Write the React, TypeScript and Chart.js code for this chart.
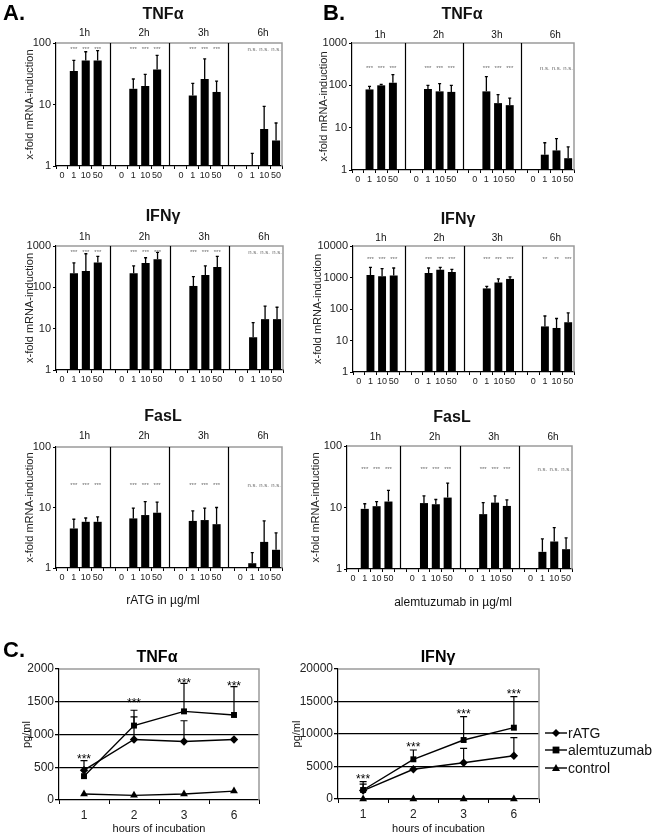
import React, { useEffect, useRef } from "react";
import { Chart, registerables } from "chart.js";
Chart.register(...registerables);

const FONT = "'Liberation Sans', Arial, Helvetica, sans-serif";

const doseLabels = ["0", "1", "10", "50"];
const hourLabels = ["1h", "2h", "3h", "6h"];

// ---- Panel A: rATG (x-fold mRNA induction; rows = hours, cols = doses 0,1,10,50)
const aTnfValues = [[1, 35, 52, 52], [1, 18, 20, 37], [1, 14, 26, 16], [1, 1, 4, 2.6]];
const aTnfErrTop = [[null, 52, 72, 75], [null, 26, 31, 63], [null, 22, 55, 24], [null, 1.6, 9.3, 5]];
const aTnfSig = [["***", "***", "***"], ["***", "***", "***"], ["***", "***", "***"], ["n.s.", "n.s.", "n.s."]];

const aIfnValues = [[1, 220, 250, 400], [1, 220, 390, 480], [1, 108, 200, 310], [1, 6.2, 17, 17]];
const aIfnErrTop = [[null, 390, 650, 560], [null, 330, 520, 700], [null, 181, 330, 560], [null, 14, 35, 33]];
const aIfnSig = [["***", "***", "***"], ["***", "***", "***"], ["***", "***", "***"], ["n.s.", "n.s.", "n.s."]];

const aFasValues = [[1, 4.5, 5.8, 5.8], [1, 6.6, 7.5, 8.2], [1, 6.0, 6.2, 5.3], [1, 1.2, 2.7, 2.0]];
const aFasErrTop = [[null, 6.4, 6.7, 7.0], [null, 9.8, 12.5, 12.3], [null, 8.8, 9.8, 10.0], [null, 1.8, 6.0, 3.8]];
const aFasSig = [["***", "***", "***"], ["***", "***", "***"], ["***", "***", "***"], ["n.s.", "n.s.", "n.s."]];

// ---- Panel B: alemtuzumab
const bTnfValues = [[1, 80, 100, 115], [1, 82, 72, 70], [1, 72, 38, 34], [1, 2.3, 2.9, 1.9]];
const bTnfErrTop = [[null, 95, 105, 180], [null, 100, 110, 100], [null, 160, 60, 50], [null, 4.4, 5.5, 3.5]];
const bTnfSig = [["***", "***", "***"], ["***", "***", "***"], ["***", "***", "***"], ["n.s.", "n.s.", "n.s."]];

const bIfnValues = [[1, 1200, 1100, 1150], [1, 1400, 1750, 1500], [1, 450, 700, 900], [1, 28, 25, 38]];
const bIfnErrTop = [[null, 2100, 1900, 2000], [null, 2000, 2100, 1800], [null, 520, 900, 1050], [null, 60, 50, 75]];
const bIfnSig = [["***", "***", "***"], ["***", "***", "***"], ["***", "***", "***"], ["**", "**", "***"]];

const bFasValues = [[1, 9.5, 10.5, 12.5], [1, 11.8, 11.3, 14.5], [1, 7.8, 12, 10.6], [1, 1.9, 2.8, 2.1]];
const bFasErrTop = [[null, 11.5, 12.5, 19], [null, 15.5, 13.5, 25], [null, 12, 15.5, 13.3], [null, 3.1, 4.7, 3.2]];
const bFasSig = [["***", "***", "***"], ["***", "***", "***"], ["***", "***", "***"], ["n.s.", "n.s.", "n.s."]];

// ---- Panel C: protein (pg/ml) over hours of incubation
const timeLabels = ["1", "2", "3", "6"];
const seriesNames = ["rATG", "alemtuzumab", "control"];

const cTnfRatg = [455, 924, 894, 924];
const cTnfRatgErr = [600, 1270, 1210, null];
const cTnfAlem = [364, 1136, 1353, 1298];
const cTnfAlemErr = [null, 1370, 1780, 1730];
const cTnfControl = [91, 71, 91, 136];
const cTnfStarAt = [667, 1515, 1818, 1773];

const cIfnRatg = [1300, 4570, 5585, 6662];
const cIfnRatgErr = [2300, null, 7800, 9430];
const cIfnAlem = [1385, 6108, 9077, 10970];
const cIfnAlemErr = [2662, 7538, 12662, 15738];
const cIfnControl = [0, 0, 0, 0];
const cIfnStarAt = [3430, 8308, 13430, 16508];

type Rect = { x: number; y: number; w: number; h: number };
type Plot = { l: number; t: number; r: number; b: number };
type Txt = { text: string; x: number; y: number };

function flattenGroups<T>(groups: T[][], filler: T): T[] {
  const out: T[] = [];
  groups.forEach((g, i) => {
    if (i > 0) out.push(filler);
    g.forEach((v) => out.push(v));
  });
  return out;
}

function makeBarChart(
  canvas: HTMLCanvasElement,
  o: {
    rect: Rect; plot: Plot; max: number;
    values: number[][]; errTop: (number | null)[][]; sig: string[][]; sigAt: number;
    title: Txt; groupY: number; yTitleX: number; corner?: Txt; footer?: Txt;
  }
) {
  const { rect, plot } = o;
  const labels = flattenGroups(hourLabels.map(() => doseLabels), "");
  const data = flattenGroups<number | null>(o.values, null);
  const errs = flattenGroups<number | null>(o.errTop, null);
  const xh = 15;
  const decades: number[] = [];
  for (let v = 1; v <= o.max; v *= 10) decades.push(v);

  const decor = {
    id: "decor",
    afterDatasetsDraw(chart: any) {
      const ctx = chart.ctx as CanvasRenderingContext2D;
      const ca = chart.chartArea;
      const xs = chart.scales.x;
      const ys = chart.scales.y;
      const meta = chart.getDatasetMeta(0);
      ctx.save();
      ctx.strokeStyle = "#9a9a9a";
      ctx.lineWidth = 1.5;
      ctx.beginPath();
      ctx.moveTo(ca.left, ca.top);
      ctx.lineTo(ca.right, ca.top);
      ctx.lineTo(ca.right, ca.bottom);
      ctx.stroke();
      ctx.strokeStyle = "#000";
      ctx.lineWidth = 1.2;
      [4, 9, 14].forEach((s) => {
        const px = Math.round(xs.getPixelForValue(s)) + 0.5;
        ctx.beginPath();
        ctx.moveTo(px, ca.top);
        ctx.lineTo(px, ca.bottom);
        ctx.stroke();
      });
      ctx.lineWidth = 1.3;
      errs.forEach((e, i) => {
        if (e == null) return;
        const el = meta.data[i];
        const py = ys.getPixelForValue(e);
        ctx.beginPath();
        ctx.moveTo(el.x, el.y);
        ctx.lineTo(el.x, py);
        ctx.moveTo(el.x - 1.5, py);
        ctx.lineTo(el.x + 1.5, py);
        ctx.stroke();
      });
      ctx.fillStyle = "#6a6a6a";
      ctx.font = `6px ${FONT}`;
      ctx.textAlign = "center";
      ctx.textBaseline = "middle";
      o.sig.forEach((grp, g) => {
        grp.forEach((s, i) => {
          const px = xs.getPixelForValue(g * 5 + i + 1);
          ctx.fillText(s, px, ys.getPixelForValue(o.sigAt));
        });
      });
      ctx.fillStyle = "#111";
      ctx.font = `10px ${FONT}`;
      hourLabels.forEach((h, g) => {
        ctx.fillText(h, xs.getPixelForValue(g * 5 + 1.9), o.groupY - rect.y);
      });
      ctx.font = `bold 16px ${FONT}`;
      ctx.fillText(o.title.text, o.title.x - rect.x, o.title.y - rect.y);
      ctx.save();
      ctx.font = `11px ${FONT}`;
      ctx.fillStyle = "#222";
      ctx.translate(o.yTitleX - rect.x, (ca.top + ca.bottom) / 2);
      ctx.rotate(-Math.PI / 2);
      ctx.fillText("x-fold mRNA-induction", 0, 0);
      ctx.restore();
      if (o.corner) {
        ctx.font = `bold 22px ${FONT}`;
        ctx.textAlign = "left";
        ctx.fillStyle = "#000";
        ctx.fillText(o.corner.text, o.corner.x - rect.x, o.corner.y - rect.y);
      }
      if (o.footer) {
        ctx.font = `12px ${FONT}`;
        ctx.textAlign = "center";
        ctx.fillStyle = "#111";
        ctx.fillText(o.footer.text, o.footer.x - rect.x, o.footer.y - rect.y);
      }
      ctx.restore();
    },
  };

  return new Chart(canvas, {
    type: "bar",
    data: {
      labels,
      datasets: [{ data, backgroundColor: "#000", barPercentage: 0.68, categoryPercentage: 1 }],
    },
    options: {
      responsive: false,
      animation: false,
      devicePixelRatio: 1,
      layout: {
        padding: { top: plot.t - rect.y, right: rect.x + rect.w - plot.r, left: 0, bottom: rect.y + rect.h - plot.b - xh },
      },
      plugins: { legend: { display: false }, tooltip: { enabled: false }, title: { display: false } },
      scales: {
        x: {
          type: "category",
          grid: { display: true, drawOnChartArea: false, offset: true, tickLength: 3, color: "#000" },
          border: { color: "#000", width: 1.2 },
          ticks: { font: { family: FONT, size: 9 }, color: "#222", padding: 1, autoSkip: false, maxRotation: 0 },
          afterFit: (s: any) => { s.height = xh; },
        },
        y: {
          type: "logarithmic",
          min: 1,
          max: o.max,
          afterBuildTicks: (s: any) => { s.ticks = decades.map((v) => ({ value: v })); },
          ticks: { callback: (v: any) => String(v), font: { family: FONT, size: 11 }, color: "#222", padding: 2 },
          grid: { display: true, drawOnChartArea: false, tickLength: 3, color: "#000" },
          border: { color: "#000", width: 1.2 },
          afterFit: (s: any) => { s.width = plot.l - rect.x; },
        },
      },
    } as any,
    plugins: [decor],
  });
}

function drawMarker(ctx: CanvasRenderingContext2D, style: string, x: number, y: number, r: number) {
  ctx.fillStyle = "#000";
  ctx.beginPath();
  if (style === "rectRot") {
    ctx.moveTo(x, y - r);
    ctx.lineTo(x + r, y);
    ctx.lineTo(x, y + r);
    ctx.lineTo(x - r, y);
  } else if (style === "rect") {
    const s = r * 0.85;
    ctx.rect(x - s, y - s, 2 * s, 2 * s);
  } else {
    ctx.moveTo(x, y - r);
    ctx.lineTo(x + r, y + r * 0.75);
    ctx.lineTo(x - r, y + r * 0.75);
  }
  ctx.closePath();
  ctx.fill();
}

function makeLineChart(
  canvas: HTMLCanvasElement,
  o: {
    rect: Rect; plot: Plot; max: number; step: number;
    ratg: number[]; ratgErr: (number | null)[]; alem: number[]; alemErr: (number | null)[]; control: number[];
    starAt: number[]; title: Txt; yTitleX: number; corner?: Txt; legendX?: number; legendY?: number[];
  }
) {
  const { rect, plot } = o;
  const xh = 22;
  const ds = (label: string, data: number[], style: string, r: number, errs: (number | null)[] | null) => ({
    label, data, borderColor: "#000", backgroundColor: "#000", borderWidth: 1.4,
    pointStyle: style, pointRadius: r, pointBorderWidth: 0, errs, clip: false,
  });
  const decor = {
    id: "decor",
    afterDatasetsDraw(chart: any) {
      const ctx = chart.ctx as CanvasRenderingContext2D;
      const ca = chart.chartArea;
      const xs = chart.scales.x;
      const ys = chart.scales.y;
      ctx.save();
      ctx.strokeStyle = "#9a9a9a";
      ctx.lineWidth = 1.5;
      ctx.beginPath();
      ctx.moveTo(ca.left, ca.top);
      ctx.lineTo(ca.right, ca.top);
      ctx.lineTo(ca.right, ca.bottom);
      ctx.stroke();
      ctx.strokeStyle = "#000";
      ctx.lineWidth = 1.2;
      chart.data.datasets.forEach((d: any) => {
        if (!d.errs) return;
        d.errs.forEach((e: number | null, i: number) => {
          if (e == null) return;
          const px = xs.getPixelForValue(i);
          const y0 = ys.getPixelForValue(d.data[i]);
          const y1 = ys.getPixelForValue(e);
          ctx.beginPath();
          ctx.moveTo(px, y0);
          ctx.lineTo(px, y1);
          ctx.moveTo(px - 3.5, y1);
          ctx.lineTo(px + 3.5, y1);
          ctx.stroke();
        });
      });
      ctx.fillStyle = "#000";
      ctx.textAlign = "center";
      ctx.textBaseline = "middle";
      ctx.font = `12px ${FONT}`;
      o.starAt.forEach((v, i) => {
        ctx.fillText("***", xs.getPixelForValue(i), ys.getPixelForValue(v) + 3);
      });
      ctx.font = `bold 16px ${FONT}`;
      ctx.fillText(o.title.text, o.title.x - rect.x, o.title.y - rect.y);
      ctx.font = `11px ${FONT}`;
      ctx.fillStyle = "#111";
      ctx.fillText("hours of incubation", (ca.left + ca.right) / 2, 829 - rect.y);
      ctx.save();
      ctx.translate(o.yTitleX - rect.x, (ca.top + ca.bottom) / 2);
      ctx.rotate(-Math.PI / 2);
      ctx.fillText("pg/ml", 0, 0);
      ctx.restore();
      if (o.corner) {
        ctx.font = `bold 22px ${FONT}`;
        ctx.textAlign = "left";
        ctx.fillStyle = "#000";
        ctx.fillText(o.corner.text, o.corner.x - rect.x, o.corner.y - rect.y);
      }
      if (o.legendX != null && o.legendY) {
        const styles = ["rectRot", "rect", "triangle"];
        ctx.font = `14px ${FONT}`;
        ctx.textAlign = "left";
        seriesNames.forEach((n, i) => {
          const lx = o.legendX! - rect.x;
          const ly = o.legendY![i] - rect.y;
          ctx.strokeStyle = "#000";
          ctx.lineWidth = 1.4;
          ctx.beginPath();
          ctx.moveTo(lx, ly);
          ctx.lineTo(lx + 22, ly);
          ctx.stroke();
          drawMarker(ctx, styles[i], lx + 11, ly, 4);
          ctx.fillStyle = "#111";
          ctx.fillText(n, lx + 23, ly + 1);
        });
      }
      ctx.restore();
    },
  };
  return new Chart(canvas, {
    type: "line",
    data: {
      labels: timeLabels,
      datasets: [
        ds(seriesNames[0], o.ratg, "rectRot", 4.2, o.ratgErr),
        ds(seriesNames[1], o.alem, "rect", 4.2, o.alemErr),
        ds(seriesNames[2], o.control, "triangle", 4.5, null),
      ],
    },
    options: {
      responsive: false,
      animation: false,
      devicePixelRatio: 1,
      layout: {
        padding: { top: plot.t - rect.y, right: rect.x + rect.w - plot.r, left: 0, bottom: rect.y + rect.h - plot.b - xh },
      },
      plugins: { legend: { display: false }, tooltip: { enabled: false }, title: { display: false } },
      scales: {
        x: {
          type: "category",
          offset: true,
          grid: { display: true, drawOnChartArea: false, offset: true, tickLength: 4, color: "#000" },
          border: { color: "#000", width: 1.2 },
          ticks: { font: { family: FONT, size: 12 }, color: "#222", padding: 4, maxRotation: 0 },
          afterFit: (s: any) => { s.height = xh; },
        },
        y: {
          min: 0,
          max: o.max,
          ticks: { stepSize: o.step, callback: (v: any) => String(v), font: { family: FONT, size: 12 }, color: "#222", padding: 1 },
          grid: {
            display: true,
            tickLength: 4,
            lineWidth: 1.3,
            color: (c: any) => (c.tick && (c.tick.value === 0 || c.tick.value === o.max) ? "rgba(0,0,0,0)" : "#000"),
            tickColor: "#000",
          },
          border: { color: "#000", width: 1.2 },
          afterFit: (s: any) => { s.width = plot.l - rect.x; },
        },
      },
    } as any,
    plugins: [decor],
  });
}

function ChartBox({ rect, build }: { rect: Rect; build: (c: HTMLCanvasElement) => Chart }) {
  const ref = useRef<HTMLCanvasElement | null>(null);
  useEffect(() => {
    const chart = build(ref.current!);
    return () => chart.destroy();
  }, []);
  return (
    <canvas
      ref={ref}
      width={rect.w}
      height={rect.h}
      style={{ position: "absolute", left: rect.x, top: rect.y, width: rect.w, height: rect.h }}
    />
  );
}

const panels: { rect: Rect; build: (c: HTMLCanvasElement) => Chart }[] = [];

function bar(rect: Rect, opts: any) {
  panels.push({ rect, build: (c) => makeBarChart(c, { rect, ...opts }) });
}
function line(rect: Rect, opts: any) {
  panels.push({ rect, build: (c) => makeLineChart(c, { rect, ...opts }) });
}

bar({ x: 0, y: 0, w: 300, h: 190 }, {
  plot: { l: 56, t: 43, r: 282, b: 166 }, max: 100, values: aTnfValues, errTop: aTnfErrTop, sig: aTnfSig, sigAt: 80,
  title: { text: "TNFα", x: 163, y: 15 }, groupY: 33, yTitleX: 30, corner: { text: "A.", x: 3, y: 14 },
});
bar({ x: 0, y: 200, w: 300, h: 190 }, {
  plot: { l: 56, t: 246, r: 283, b: 370 }, max: 1000, values: aIfnValues, errTop: aIfnErrTop, sig: aIfnSig, sigAt: 720,
  title: { text: "IFNγ", x: 163, y: 217 }, groupY: 237, yTitleX: 30,
});
bar({ x: 0, y: 400, w: 300, h: 215 }, {
  plot: { l: 56, t: 447, r: 282, b: 568 }, max: 100, values: aFasValues, errTop: aFasErrTop, sig: aFasSig, sigAt: 23.5,
  title: { text: "FasL", x: 163, y: 417 }, groupY: 436, yTitleX: 30, footer: { text: "rATG in µg/ml", x: 163, y: 601 },
});
bar({ x: 300, y: 0, w: 300, h: 190 }, {
  plot: { l: 352, t: 43, r: 574, b: 170 }, max: 1000, values: bTnfValues, errTop: bTnfErrTop, sig: bTnfSig, sigAt: 257,
  title: { text: "TNFα", x: 462, y: 15 }, groupY: 35, yTitleX: 324, corner: { text: "B.", x: 323, y: 14 },
});
bar({ x: 300, y: 200, w: 300, h: 192 }, {
  plot: { l: 353, t: 246, r: 574, b: 372 }, max: 10000, values: bIfnValues, errTop: bIfnErrTop, sig: bIfnSig, sigAt: 3880,
  title: { text: "IFNγ", x: 458, y: 220 }, groupY: 238, yTitleX: 318,
});
bar({ x: 300, y: 400, w: 300, h: 215 }, {
  plot: { l: 347, t: 446, r: 572, b: 569 }, max: 100, values: bFasValues, errTop: bFasErrTop, sig: bFasSig, sigAt: 42,
  title: { text: "FasL", x: 452, y: 418 }, groupY: 437, yTitleX: 316, footer: { text: "alemtuzumab in µg/ml", x: 453, y: 603 },
});
line({ x: 0, y: 636, w: 280, h: 198 }, {
  plot: { l: 59, t: 669, r: 259, b: 800 }, max: 2000, step: 500,
  ratg: cTnfRatg, ratgErr: cTnfRatgErr, alem: cTnfAlem, alemErr: cTnfAlemErr, control: cTnfControl, starAt: cTnfStarAt,
  title: { text: "TNFα", x: 157, y: 658 }, yTitleX: 27, corner: { text: "C.", x: 3, y: 651 },
});
line({ x: 280, y: 636, w: 381, h: 198 }, {
  plot: { l: 338, t: 669, r: 539, b: 799 }, max: 20000, step: 5000,
  ratg: cIfnRatg, ratgErr: cIfnRatgErr, alem: cIfnAlem, alemErr: cIfnAlemErr, control: cIfnControl, starAt: cIfnStarAt,
  title: { text: "IFNγ", x: 438, y: 658 }, yTitleX: 297, legendX: 545, legendY: [733, 750, 768],
});

export default function App() {
  return (
    <div style={{ position: "absolute", left: 0, top: 0, width: 661, height: 834, background: "#fff", overflow: "hidden" }}>
      {panels.map((p, i) => (
        <ChartBox key={i} rect={p.rect} build={p.build} />
      ))}
    </div>
  );
}
